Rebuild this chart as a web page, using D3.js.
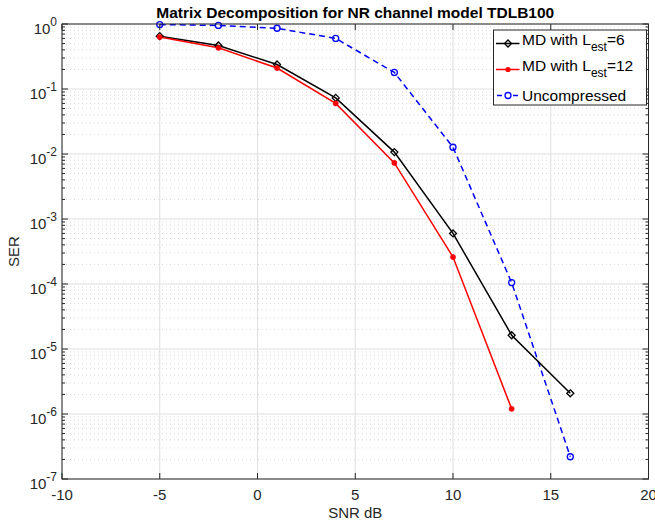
<!DOCTYPE html>
<html>
<head>
<meta charset="utf-8">
<script src="https://cdn.jsdelivr.net/npm/d3@7"></script>
<style>
  html, body { margin: 0; padding: 0; background: #fff; }
  svg { display: block; font-family: "Liberation Sans", Arial, Helvetica, sans-serif; }
</style>
</head>
<body>
<svg id="chart" width="655" height="524"></svg>
<script>
// ---- data ----
const snrMD6 = [-5, -2, 1, 4, 7, 10, 13, 16];
const serMD6 = [0.65, 0.467, 0.238, 0.073, 0.0107, 6.0e-4, 1.63e-5, 2.08e-6];
const snrMD12 = [-5, -2, 1, 4, 7, 10, 13];
const serMD12 = [0.63, 0.43, 0.21, 0.060, 0.0073, 2.6e-4, 1.2e-6];
const snrUnc = [-5, -2, 1, 4, 7, 10, 13, 16];
const serUnc = [0.98, 0.95, 0.86, 0.60, 0.18, 0.0127, 1.05e-4, 2.2e-7];
const xTicks = [-10, -5, 0, 5, 10, 15, 20];
const yTickExps = [0, -1, -2, -3, -4, -5, -6, -7];
const titleText = "Matrix Decomposition for NR channel model TDLB100";
const xLabel = "SNR dB";
const yLabel = "SER";

// ---- layout ----
const L = 62, R = 648.5, T = 24, B = 479;
const svg = d3.select("#chart");
const x = d3.scaleLinear().domain([-10, 20]).range([L, R]);
const y = d3.scaleLog().domain([1e-7, 1]).range([B, T]);
const axisColor = "#262626";

// grid: minor (dotted) on y
const minorVals = [];
for (let e = -7; e < 0; e++) for (let m = 2; m <= 9; m++) minorVals.push(m * Math.pow(10, e));
const g = svg.append("g");
g.selectAll(".ymin").data(minorVals).enter().append("line")
  .attr("x1", L).attr("x2", R).attr("y1", d => y(d)).attr("y2", d => y(d))
  .attr("stroke", "#c8c8c8").attr("stroke-width", 0.7).attr("stroke-dasharray", "1,3");
g.selectAll(".ymaj").data(yTickExps).enter().append("line")
  .attr("x1", L).attr("x2", R).attr("y1", d => y(Math.pow(10, d))).attr("y2", d => y(Math.pow(10, d)))
  .attr("stroke", "#dfdfdf").attr("stroke-width", 1);
g.selectAll(".xmaj").data(xTicks).enter().append("line")
  .attr("y1", T).attr("y2", B).attr("x1", d => x(d)).attr("x2", d => x(d))
  .attr("stroke", "#dfdfdf").attr("stroke-width", 1);

// ---- series ----
const line = d3.line().x(d => x(d[0])).y(d => y(d[1]));
const dMD6 = snrMD6.map((s, i) => [s, serMD6[i]]);
const dMD12 = snrMD12.map((s, i) => [s, serMD12[i]]);
const dUnc = snrUnc.map((s, i) => [s, serUnc[i]]);

svg.append("path").datum(dUnc).attr("d", line).attr("fill", "none")
  .attr("stroke", "#0000ff").attr("stroke-width", 1.5).attr("stroke-dasharray", "6,4");
svg.append("path").datum(dMD6).attr("d", line).attr("fill", "none")
  .attr("stroke", "#000").attr("stroke-width", 1.5);
svg.append("path").datum(dMD12).attr("d", line).attr("fill", "none")
  .attr("stroke", "#ff0000").attr("stroke-width", 1.5);

const diamond = (cx, cy, r) => `M${cx},${cy - r}L${cx + r},${cy}L${cx},${cy + r}L${cx - r},${cy}Z`;
svg.selectAll(".mUnc").data(dUnc).enter().append("circle")
  .attr("cx", d => x(d[0])).attr("cy", d => y(d[1])).attr("r", 3)
  .attr("fill", "none").attr("stroke", "#0000ff").attr("stroke-width", 1.3);
svg.selectAll(".mMD6").data(dMD6).enter().append("path")
  .attr("d", d => diamond(x(d[0]), y(d[1]), 3.5))
  .attr("fill", "none").attr("stroke", "#000").attr("stroke-width", 1.3);
svg.selectAll(".mMD12").data(dMD12).enter().append("circle")
  .attr("cx", d => x(d[0])).attr("cy", d => y(d[1])).attr("r", 2.6)
  .attr("fill", "#ff0000").attr("stroke", "#ff0000").attr("stroke-width", 0.5);

// ---- axes box & ticks ----
const ax = svg.append("g").attr("stroke", axisColor).attr("stroke-width", 1);
ax.append("rect").attr("x", L).attr("y", T).attr("width", R - L).attr("height", B - T).attr("fill", "none");
xTicks.forEach(t => {
  ax.append("line").attr("x1", x(t)).attr("x2", x(t)).attr("y1", B).attr("y2", B - 6);
  ax.append("line").attr("x1", x(t)).attr("x2", x(t)).attr("y1", T).attr("y2", T + 6);
});
yTickExps.forEach(e => {
  const yy = y(Math.pow(10, e));
  ax.append("line").attr("x1", L).attr("x2", L + 6).attr("y1", yy).attr("y2", yy);
  ax.append("line").attr("x1", R).attr("x2", R - 6).attr("y1", yy).attr("y2", yy);
});
minorVals.forEach(v => {
  const yy = y(v);
  ax.append("line").attr("x1", L).attr("x2", L + 3).attr("y1", yy).attr("y2", yy);
  ax.append("line").attr("x1", R).attr("x2", R - 3).attr("y1", yy).attr("y2", yy);
});

// tick labels
svg.selectAll(".xtl").data(xTicks).enter().append("text")
  .attr("x", d => x(d)).attr("y", B + 21).attr("text-anchor", "middle")
  .attr("font-size", 15).attr("fill", axisColor).text(d => d);
yTickExps.forEach(e => {
  const t = svg.append("text").attr("x", 57).attr("y", y(Math.pow(10, e)) + 9.5)
    .attr("text-anchor", "end").attr("font-size", 15).attr("fill", axisColor);
  t.append("tspan").text("10");
  t.append("tspan").attr("font-size", 12).attr("dy", -7.5).text(e);
});

// axis labels & title
svg.append("text").attr("x", (L + R) / 2).attr("y", 518).attr("text-anchor", "middle")
  .attr("font-size", 15).attr("fill", axisColor).text(xLabel);
svg.append("text").attr("transform", `translate(19,${(T + B) / 2}) rotate(-90)`)
  .attr("text-anchor", "middle").attr("font-size", 15).attr("fill", axisColor).text(yLabel);
svg.append("text").attr("x", (L + R) / 2).attr("y", 18).attr("text-anchor", "middle")
  .attr("font-size", 15.5).attr("font-weight", "bold").attr("fill", "#000").text(titleText);

// ---- legend ----
const lg = svg.append("g");
lg.append("rect").attr("x", 493.5).attr("y", 30).attr("width", 153).attr("height", 75)
  .attr("fill", "#fff").attr("stroke", axisColor).attr("stroke-width", 1);
const entries = [
  { color: "#000", dash: null, marker: "diamond", base: "MD with L", sub: "est", tail: "=6", yc: 43.5 },
  { color: "#ff0000", dash: null, marker: "dot", base: "MD with L", sub: "est", tail: "=12", yc: 69.5 },
  { color: "#0000ff", dash: "6,4", marker: "circle", base: "Uncompressed", sub: null, tail: null, yc: 95.5 }
];
entries.forEach(en => {
  const ln = lg.append("line").attr("x1", 496).attr("x2", 519.5).attr("y1", en.yc).attr("y2", en.yc)
    .attr("stroke", en.color).attr("stroke-width", 1.5);
  if (en.dash) ln.attr("stroke-dasharray", "5,3").attr("x1", 497);
  const mx = 508;
  if (en.marker === "diamond") lg.append("path").attr("d", diamond(mx, en.yc, 3.5))
    .attr("fill", "none").attr("stroke", en.color).attr("stroke-width", 1.3);
  if (en.marker === "dot") lg.append("circle").attr("cx", mx).attr("cy", en.yc).attr("r", 2.6).attr("fill", en.color);
  if (en.marker === "circle") lg.append("circle").attr("cx", mx).attr("cy", en.yc).attr("r", 3)
    .attr("fill", "#fff").attr("stroke", en.color).attr("stroke-width", 1.3);
  const t = lg.append("text").attr("x", 522).attr("y", en.yc + (en.sub ? 1.5 : 5.5)).attr("font-size", 15.5).attr("fill", "#000");
  t.append("tspan").text(en.base);
  if (en.sub) {
    t.append("tspan").attr("font-size", 12).attr("dy", 6).text(en.sub);
    t.append("tspan").attr("dy", -6).text(en.tail);
  }
});
</script>
</body>
</html>
